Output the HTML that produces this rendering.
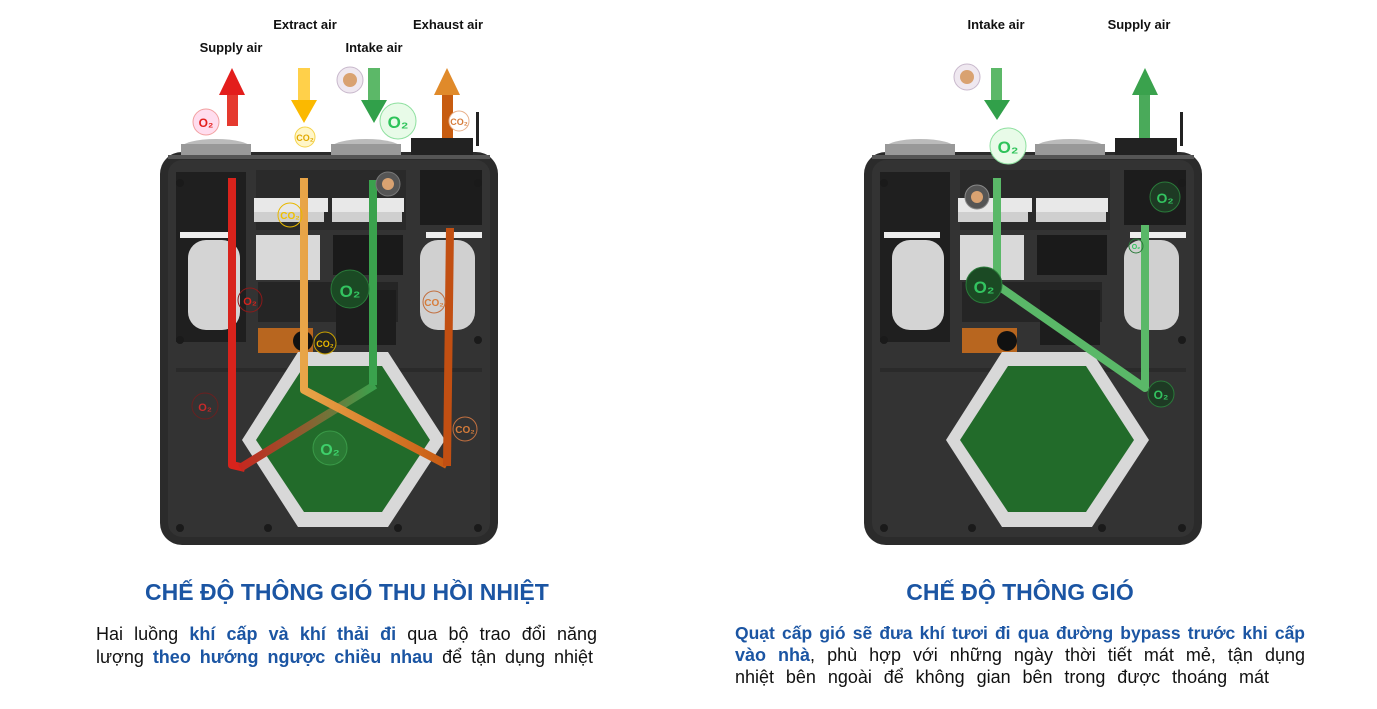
<!DOCTYPE html>
<html><head><meta charset="utf-8"><style>
body{margin:0;background:#fff;width:1377px;height:709px;overflow:hidden;position:relative;font-family:"Liberation Sans","Noto Sans CJK SC",sans-serif}
.t{position:absolute;color:#1b55a3;font-weight:bold;font-size:23px;text-align:center;white-space:nowrap}
.l{position:absolute;font-size:18px;color:#111;line-height:22px;height:22px;white-space:nowrap;text-align:justify;text-align-last:justify}
.l b{color:#1b55a3}
</style></head><body>
<svg width="1377" height="709" style="position:absolute;left:0;top:0" font-family="Liberation Sans, sans-serif">
<defs>
<g id="unit">
 <rect x="2" y="152" width="338" height="393" rx="22" fill="#2b2b2b"/>
 <rect x="10" y="160" width="322" height="377" rx="14" fill="#333"/>
 <ellipse cx="58" cy="148" rx="35" ry="9" fill="#bbb"/><rect x="23" y="144" width="70" height="12" fill="#999"/>
 <ellipse cx="208" cy="148" rx="35" ry="9" fill="#bbb"/><rect x="173" y="144" width="70" height="12" fill="#999"/>
 <rect x="253" y="138" width="62" height="20" fill="#222"/>
 <rect x="318" y="112" width="3" height="34" fill="#222"/>
 <rect x="10" y="155" width="322" height="4" fill="#555"/>
 <rect x="18" y="172" width="70" height="170" fill="#1f1f1f"/>
 <rect x="98" y="170" width="150" height="60" fill="#2a2a2a"/>
 <rect x="262" y="170" width="62" height="55" fill="#1c1c1c"/>
 <rect x="96" y="198" width="74" height="14" fill="#e8e8e8"/><rect x="96" y="212" width="70" height="10" fill="#cfcfcf"/>
 <rect x="174" y="198" width="72" height="14" fill="#e8e8e8"/><rect x="174" y="212" width="70" height="10" fill="#cfcfcf"/>
 <rect x="98" y="235" width="64" height="45" fill="#d9d9d9"/>
 <rect x="175" y="235" width="70" height="40" fill="#1a1a1a"/>
 <rect x="100" y="282" width="140" height="40" fill="#252525"/>
 <rect x="178" y="290" width="60" height="55" fill="#1d1d1d"/>
 <rect x="22" y="232" width="56" height="6" fill="#eee"/>
 <rect x="30" y="240" width="52" height="90" rx="18" fill="#d4d4d4"/>
 <rect x="268" y="232" width="56" height="6" fill="#eee"/>
 <rect x="262" y="240" width="55" height="90" rx="18" fill="#d0d0d0"/>
 <rect x="100" y="328" width="55" height="25" fill="#b8661f"/>
 <circle cx="145" cy="341" r="10" fill="#111"/>
 <rect x="18" y="368" width="306" height="4" fill="#2a2a2a"/>
 <polygon points="140,352 230,352 287,440 230,527 140,527 84,440" fill="#d8d8d8"/>
 <polygon points="146,366 224,366 272,440 224,512 146,512 98,440" fill="#226b2a"/>
 <g fill="#1a1a1a">
  <circle cx="22" cy="183" r="4"/><circle cx="320" cy="183" r="4"/><circle cx="22" cy="528" r="4"/><circle cx="320" cy="528" r="4"/>
  <circle cx="110" cy="528" r="4"/><circle cx="240" cy="528" r="4"/><circle cx="22" cy="340" r="4"/><circle cx="320" cy="340" r="4"/>
 </g>
</g>
<linearGradient id="gr" x1="0" x2="1"><stop offset="0" stop-color="#c6271f"/><stop offset="0.5" stop-color="#8a6030"/><stop offset="1" stop-color="#3aa24d"/></linearGradient>
<linearGradient id="go" x1="0" x2="1"><stop offset="0" stop-color="#e8a548"/><stop offset="1" stop-color="#c85a12"/></linearGradient>
</defs>
<use href="#unit" x="158"/>
<use href="#unit" x="862"/>
<g fill="none" stroke-width="8" stroke-linejoin="round">
 <polyline points="232,178 232,465 245,468 " stroke="#d8231c"/>
 <polyline points="240,468 375,385" stroke="url(#gr)"/>
 <polyline points="373,180 373,385" stroke="#3aa24d"/>
 <polyline points="304,178 304,390 447,465" stroke="url(#go)"/>
 <polyline points="447,466 450,228" stroke="#c24f12"/>
 <polyline points="997,178 997,285 1145,388 1145,225" stroke="#5ab868"/>
</g>
<rect x="227" y="93" width="11" height="33" fill="#e53a2f"/><polygon points="219,95 232,68 245,95" fill="#e31e1c"/>
<rect x="298" y="68" width="12" height="35" fill="#ffd04a"/><polygon points="291,100 304,123 317,100" fill="#fbb900"/>
<rect x="368" y="68" width="12" height="35" fill="#5cb868"/><polygon points="361,100 374,123 387,100" fill="#31a04a"/>
<rect x="442" y="93" width="11" height="45" fill="#c75c10"/><polygon points="434,95 447,68 460,95" fill="#e08a2a"/>
<rect x="991" y="68" width="11" height="35" fill="#5cb868"/><polygon points="984,100 997,120 1010,100" fill="#31a04a"/>
<rect x="1139" y="93" width="11" height="45" fill="#4aaa5a"/><polygon points="1132,95 1145,68 1158,95" fill="#3aa24d"/>
<g font-weight="bold" text-anchor="middle">
 <circle cx="206" cy="122" r="13" fill="#fde" stroke="#f2a0a0"/><text x="206" y="127" font-size="12" fill="#e31e1c">O₂</text>
 <circle cx="305" cy="137" r="10" fill="#fff6c8" stroke="#f5d34a"/><text x="305" y="141" font-size="9" fill="#e0a800">CO₂</text>
 <circle cx="350" cy="80" r="13" fill="#efe8f0" stroke="#c8b8cc"/><circle cx="350" cy="80" r="7" fill="#d9a271"/>
 <circle cx="398" cy="121" r="18" fill="#e8fbe8" stroke="#8fe0a0"/><text x="398" y="128" font-size="17" fill="#2ec35a">O₂</text>
 <circle cx="459" cy="121" r="10" fill="#fff" stroke="#e8b08a"/><text x="459" y="125" font-size="9" fill="#d67c3a">CO₂</text>
 <circle cx="388" cy="184" r="12" fill="#555" stroke="#777"/><circle cx="388" cy="184" r="6" fill="#d9a271"/>
 <circle cx="290" cy="215" r="12" fill="none" stroke="#e8b800"/><text x="290" y="219" font-size="10" fill="#f0c000">CO₂</text>
 <circle cx="250" cy="300" r="12" fill="none" stroke="#8a1a1a"/><text x="250" y="305" font-size="11" fill="#d8231c">O₂</text>
 <circle cx="350" cy="289" r="19" fill="#1b4a24" stroke="#2a7a3a"/><text x="350" y="297" font-size="17" fill="#33c460">O₂</text>
 <circle cx="325" cy="343" r="11" fill="#222" stroke="#c9a000"/><text x="325" y="347" font-size="9" fill="#e8b800">CO₂</text>
 <circle cx="434" cy="302" r="11" fill="none" stroke="#c27040"/><text x="434" y="306" font-size="10" fill="#d67c3a">CO₂</text>
 <circle cx="205" cy="406" r="13" fill="none" stroke="#6a2020"/><text x="205" y="411" font-size="11" fill="#c82a2a">O₂</text>
 <circle cx="330" cy="448" r="17" fill="#2a7a34" stroke="#3a9a48"/><text x="330" y="455" font-size="16" fill="#3ed06a">O₂</text>
 <circle cx="465" cy="429" r="12" fill="none" stroke="#c27040"/><text x="465" y="433" font-size="10" fill="#d67c3a">CO₂</text>
 <circle cx="967" cy="77" r="13" fill="#efe8f0" stroke="#c8b8cc"/><circle cx="967" cy="77" r="7" fill="#d9a271"/>
 <circle cx="1008" cy="146" r="18" fill="#e8fbe8" stroke="#8fe0a0"/><text x="1008" y="153" font-size="17" fill="#2ec35a">O₂</text>
 <circle cx="977" cy="197" r="12" fill="#555" stroke="#888"/><circle cx="977" cy="197" r="6" fill="#d9a271"/>
 <circle cx="1165" cy="197" r="15" fill="#1e3a24" stroke="#2a7a3a"/><text x="1165" y="203" font-size="14" fill="#33c460">O₂</text>
 <circle cx="1136" cy="246" r="7" fill="none" stroke="#2a7a3a"/><text x="1136" y="249" font-size="7" fill="#33c460">O₂</text>
 <circle cx="984" cy="285" r="18" fill="#1b4a24" stroke="#2a7a3a"/><text x="984" y="293" font-size="17" fill="#33c460">O₂</text>
 <circle cx="1161" cy="394" r="13" fill="#1e3a24" stroke="#2a7a3a"/><text x="1161" y="399" font-size="12" fill="#33c460">O₂</text>
</g>
<g font-size="13" font-weight="bold" fill="#111" text-anchor="middle">
 <text x="231" y="52">Supply air</text>
 <text x="305" y="29">Extract air</text>
 <text x="374" y="52">Intake air</text>
 <text x="448" y="29">Exhaust air</text>
 <text x="996" y="29">Intake air</text>
 <text x="1139" y="29">Supply air</text>
</g>
</svg>
<div class="t" style="left:145px;top:579px;width:400px">CHẾ ĐỘ THÔNG GIÓ THU HỒI NHIỆT</div>
<div class="t" style="left:820px;top:579px;width:400px">CHẾ ĐỘ THÔNG GIÓ</div>
<div class="l" style="left:96px;top:623px;width:501px">Hai luồng <b>khí cấp và khí thải đi</b> qua bộ trao đổi năng</div>
<div class="l" style="left:96px;top:646px;width:497px">lượng <b>theo hướng ngược chiều nhau</b> để tận dụng nhiệt</div>
<div class="l" style="left:735px;top:622px;width:570px;font-size:17.5px"><b>Quạt cấp gió sẽ đưa khí tươi đi qua đường bypass trước khi cấp</b></div>
<div class="l" style="left:735px;top:644px;width:570px"><b>vào nhà</b>, phù hợp với những ngày thời tiết mát mẻ, tận dụng</div>
<div class="l" style="left:735px;top:666px;width:534px">nhiệt bên ngoài để không gian bên trong được thoáng mát</div>
</body></html>
